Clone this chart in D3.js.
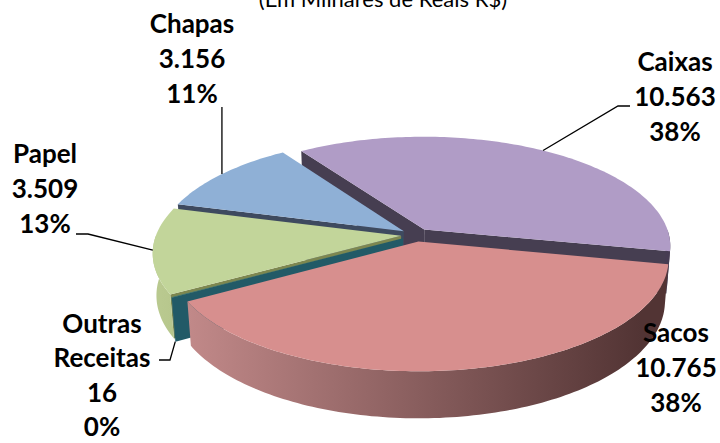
<!DOCTYPE html>
<html>
<head>
<meta charset="utf-8">
<script src="https://cdn.jsdelivr.net/npm/d3@7"></script>
<style>
  body { margin: 0; background: #fff; }
  text { font-family: Lato, "Open Sans", sans-serif; }
</style>
</head>
<body>
<div id="chart"></div>
<script>
// data
var categories = ["Caixas", "Sacos", "Outras Receitas", "Papel", "Chapas"];
var values = [10563, 10765, 16, 3509, 3156];
var subtitle = "(Em Milhares de Reais R$)";

// styles
var topColors  = ["#b09cc6", "#d78f8e", "#2c7384", "#c2d59a", "#8fb0d6"];
var faceColors = ["#463e51", "#5a3a3a", "#225a67", "#7d8750", "#3e4a5f"];
var wallLight  = ["#a696bb", "#c88e8e", "#2a6b7a", "#b9c98f", "#8aa6c6"];
var wallDark   = ["#463c52", "#523434", "#1d4650", "#66713f", "#3b4a5e"];

var width = 720, height = 443;

// 3d pie settings
var cx = 416, cy = 235, R = 245, H = 47, explode = 15;
var tilt = 26.2 * Math.PI / 180;
var sinT = Math.sin(tilt), cosT = Math.cos(tilt);
var F = 6.7 * R * cosT;

var svg = d3.select("#chart")
  .append("svg")
    .attr("width", width)
    .attr("height", height);

var defs = svg.append("defs");

function project(X, Y, Z) {
  var yv = Y * cosT - Z * sinT;
  var zv = Y * sinT + Z * cosT;
  var s = F / (F - zv);
  return [cx + X * s, cy - yv * s];
}

var start = 325.7 * Math.PI / 180;
var pie = d3.pie().sort(null).value(function(d){ return d; })
  .startAngle(start).endAngle(start + 2 * Math.PI);
var arcs = pie(values);

var total = d3.sum(values);
var loc = d3.formatLocale({decimal: ",", thousands: ".", grouping: [3], currency: ["R$", ""]});
var fmtVal = loc.format(",");
var fmtPct = d3.format(".0%");

// d3 angle (clockwise from 12h) -> screen angle (from 3h, y down)
arcs.forEach(function(a, i) {
  a.p0 = a.startAngle - Math.PI / 2;
  a.p1 = a.endAngle - Math.PI / 2;
  a.mid = (a.p0 + a.p1) / 2;
  a.ox = explode * Math.cos(a.mid);
  a.oz = explode * Math.sin(a.mid);
  a.i = i;
});

function rim(a, phi, Y) {
  return project(a.ox + R * Math.cos(phi), Y, a.oz + R * Math.sin(phi));
}
function apex(a, Y) { return project(a.ox, Y, a.oz); }

function arcPts(a, p0, p1, Y) {
  var n = Math.max(2, Math.ceil(Math.abs(p1 - p0) / 0.02));
  var pts = [];
  for (var k = 0; k <= n; k++) pts.push(rim(a, p0 + (p1 - p0) * k / n, Y));
  return pts;
}

var line = d3.line();

// wall gradients
arcs.forEach(function(a, i) {
  var g = defs.append("linearGradient")
    .attr("id", "wall" + i)
    .attr("gradientUnits", "userSpaceOnUse")
    .attr("x1", cx - R - 10).attr("x2", cx + R - 20)
    .attr("y1", 0).attr("y2", 0);
  g.append("stop").attr("offset", 0).attr("stop-color", wallLight[i]);
  g.append("stop").attr("offset", 1).attr("stop-color", wallDark[i]);
});

// back to front
var order = arcs.slice().sort(function(a, b) { return Math.sin(a.mid) - Math.sin(b.mid); });

var pieG = svg.append("g");

order.forEach(function(a) {
  var g = pieG.append("g");
  var i = a.i;

  // radial side faces
  [[a.p0, a.p0 - Math.PI / 2], [a.p1, a.p1 + Math.PI / 2]].forEach(function(f) {
    if (Math.sin(f[1]) <= 0) return;
    var pts = [apex(a, 0), rim(a, f[0], 0), rim(a, f[0], -H), apex(a, -H)];
    g.append("path")
      .attr("d", line(pts) + "Z")
      .attr("fill", faceColors[i]);
  });

  // outer wall, front-facing part
  for (var k = -1; k <= 2; k++) {
    var lo = Math.max(a.p0, 2 * Math.PI * k), hi = Math.min(a.p1, 2 * Math.PI * k + Math.PI);
    if (hi <= lo) continue;
    var topP = arcPts(a, lo, hi, 0), botP = arcPts(a, hi, lo, -H);
    g.append("path")
      .attr("d", line(topP.concat(botP)) + "Z")
      .attr("fill", "url(#wall" + i + ")");
  }

  // top face
  var pts = [apex(a, 0)].concat(arcPts(a, a.p0, a.p1, 0));
  g.append("path")
    .attr("d", line(pts) + "Z")
    .attr("fill", topColors[i]);
});

// subtitle (partly cut at the top, as in the original)
svg.append("text")
  .attr("x", 383).attr("y", 7)
  .attr("text-anchor", "middle")
  .attr("font-size", 22)
  .attr("fill", "#000")
  .text(subtitle);

// labels
var labelPos = [[675, 62], [676, 333], [102, 324], [45, 154], [192, 24]];
var lineGaps = [35, 35, 34.3, 35, 35];

arcs.forEach(function(a, i) {
  var lines = categories[i].split(" ").concat([fmtVal(values[i]), fmtPct(values[i] / total)]);
  var t = svg.append("text")
    .attr("text-anchor", "middle")
    .attr("font-size", 26)
    .attr("font-weight", "bold")
    .attr("fill", "#000");
  lines.forEach(function(s, k) {
    t.append("tspan")
      .attr("x", labelPos[i][0])
      .attr("y", labelPos[i][1] + k * lineGaps[i])
      .attr("dy", "0.35em")
      .text(s);
  });
});

// leader lines
var leaders = [
  { i: 0, pts: [[630, 106], [618, 106]], Y: 0 },
  { i: 2, pts: [[159, 360], [170, 360]], Y: -H },
  { i: 3, pts: [[76, 234], [88, 234]], Y: 0 },
  { i: 4, pts: [], top: 107, Y: 0 }
];
leaders.forEach(function(l) {
  var a = arcs[l.i];
  var end = rim(a, a.mid, l.Y);
  var pts = l.top != null ? [[end[0], l.top]] : l.pts;
  svg.append("path")
    .attr("d", line(pts.concat([end])))
    .attr("fill", "none")
    .attr("stroke", "#000")
    .attr("stroke-width", 1.3);
});
</script>
</body>
</html>
